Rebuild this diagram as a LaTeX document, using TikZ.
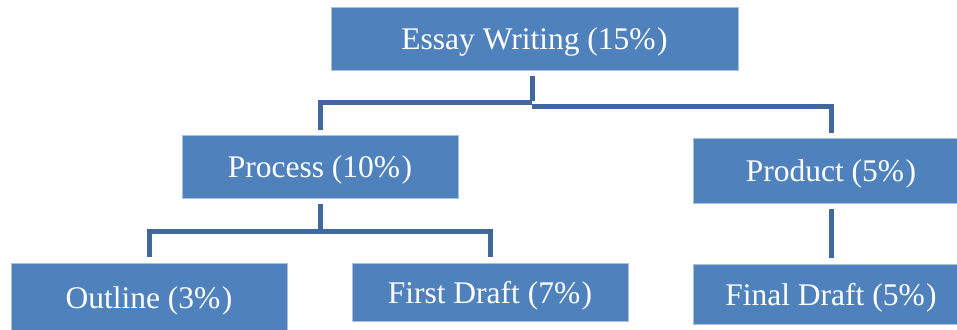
\documentclass[tikz,border=0pt]{standalone}
\usepackage{fontspec}
\setmainfont{Liberation Serif}
\definecolor{boxblue}{HTML}{4F81BD}
\definecolor{boxedge}{HTML}{A9C0DE}
\definecolor{linkblue}{HTML}{41689B}
\newcommand{\pct}[1]{(#1\%\kern1.5pt)}
\tikzset{
  box/.style={fill=boxblue, draw=boxedge, line width=0.8pt, text=white,
    inner sep=0pt, text height=22pt, text depth=0pt,
    font=\fontsize{31.5}{36}\selectfont},
  conn/.style={draw=linkblue, line width=5pt, line cap=butt, line join=miter}
}
\begin{document}
\begin{tikzpicture}[x=1pt,y=-1pt]
\useasboundingbox (0,0) rectangle (957,329);
\clip (0,0) rectangle (957,329);

% boxes (centres and sizes in px)
\node[box, minimum width=407, minimum height=63] (top)     at (534.5,38.5) {Essay Writing \pct{15}};
\node[box, minimum width=276, minimum height=63] (process) at (320,166.5)  {Process \pct{10}};
\node[box, minimum width=276, minimum height=65] (product) at (831,170.5)  {Product \pct{5}};
\node[box, minimum width=276, minimum height=68] (outline) at (149,297)    {Outline \pct{3}};
\node[box, minimum width=276, minimum height=58] (first)   at (490,292)    {First Draft \pct{7}};
\node[box, minimum width=276, minimum height=60] (final)   at (831,294)    {Final Draft \pct{5}};

% junction levels
\coordinate (tj) at ([xshift=-2.5pt]top.south);
\coordinate (lvlA) at (0,102);
\coordinate (lvlB) at (0,106);
\coordinate (lvlC) at (0,231);

% essay writing -> process / product
\draw[conn, shorten >=5pt] ([yshift=-6pt]tj) -- (tj |- lvlB);
\draw[conn, shorten >=5pt] (tj |- lvlA) -| (process.north);
\draw[conn, shorten >=5pt] (tj |- lvlB) -| (product.north);

% process -> outline / first draft
\draw[conn] ([yshift=-6pt]process.south) -- (process.south |- lvlC);
\draw[conn, shorten >=6pt] (process.south |- lvlC) -| (outline.north);
\draw[conn, shorten >=6pt] (process.south |- lvlC) -| (first.north);

% product -> final draft
\draw[conn, shorten <=6pt, shorten >=6pt] (product.south) -- (final.north);
\end{tikzpicture}
\end{document}
